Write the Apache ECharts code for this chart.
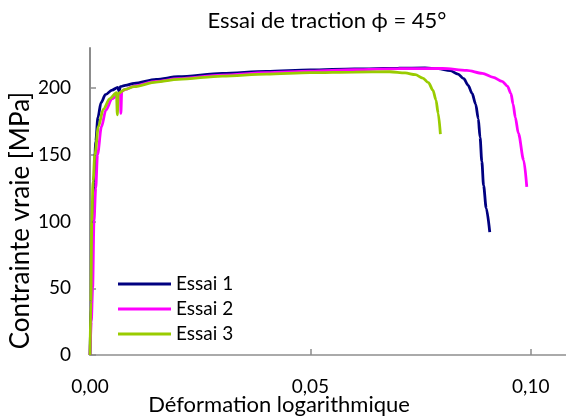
<!DOCTYPE html>
<html>
<head>
<meta charset="utf-8">
<script src="https://cdn.jsdelivr.net/npm/echarts@6/dist/echarts.min.js"></script>
<style>
  html, body { margin: 0; padding: 0; background: #ffffff; }
  #chart { width: 566px; height: 419px; }
</style>
</head>
<body>
<div id="chart"></div>
<script>
// Tensile test at 45°: true stress vs logarithmic strain, three specimens
const seriesNames = ['Essai 1', 'Essai 2', 'Essai 3'];
const seriesColors = ['#000080', '#FF00FF', '#99CC00'];

// [logarithmic strain, true stress in MPa]
const essai1 = [
  [0, 0], [0.0003, 40], [0.0006, 90], [0.0009, 130], [0.0013, 160], [0.0018, 178],
  [0.0025, 189], [0.0035, 195], [0.005, 198.5], [0.0063, 200.5], [0.0066, 197.5],
  [0.0069, 201], [0.008, 202], [0.01, 203.5], [0.015, 206.5], [0.02, 208.5],
  [0.03, 211], [0.04, 212.5], [0.05, 213.5], [0.06, 214.3], [0.07, 214.9],
  [0.076, 215], [0.079, 214.6], [0.0817, 213], [0.0835, 210.5], [0.0848, 207],
  [0.0858, 202], [0.0867, 196], [0.0875, 188], [0.0881, 177], [0.0885, 163],
  [0.0889, 145], [0.0893, 127], [0.0899, 110], [0.0907, 92]
];
const essai2 = [
  [0, 0], [0.0003, 25], [0.0006, 50], [0.0009, 100], [0.0013, 125], [0.0017, 150],
  [0.0026, 171], [0.0036, 183.5], [0.005, 192], [0.0069, 196.5], [0.007, 181],
  [0.0072, 197.5], [0.008, 199], [0.01, 201.5], [0.015, 205], [0.02, 207],
  [0.03, 209.7], [0.04, 211.5], [0.05, 212.7], [0.06, 213.7], [0.07, 214.5],
  [0.08, 214.7], [0.0855, 213.2], [0.089, 211], [0.0915, 208], [0.0935, 205],
  [0.0947, 201.5], [0.0955, 196], [0.096, 188], [0.0965, 178], [0.0972, 166],
  [0.0984, 146], [0.0991, 126]
];
const essai3 = [
  [0, 0], [0.0002, 40], [0.0004, 100], [0.0007, 130], [0.0011, 150], [0.0019, 171],
  [0.003, 184], [0.0045, 192], [0.006, 196.5], [0.0062, 180], [0.0064, 196],
  [0.008, 199], [0.01, 201], [0.015, 204.5], [0.02, 206.5], [0.03, 209],
  [0.04, 210.5], [0.05, 211.5], [0.06, 212], [0.068, 212.2], [0.0715, 211.3],
  [0.0738, 210], [0.0755, 207.5], [0.0768, 204], [0.0778, 198.5], [0.0785, 191],
  [0.079, 181], [0.0795, 165.5]
];
const allSeries = [essai1, essai2, essai3];

// axis ranges and tick steps
const xMin = 0, xMax = 0.108, xStep = 0.05;
const yMin = 0, yMax = 230, yStep = 50;

const FONT = 'Lato';
const axisGrey = '#8c8c8c';

const chart = echarts.init(document.getElementById('chart'), null, { renderer: 'canvas' });

chart.setOption({
  animation: false,
  backgroundColor: '#ffffff',
  textStyle: { fontFamily: FONT, color: '#000000' },
  title: {
    text: 'Essai de traction \u03D5 = 45\u00B0',
    left: 322, textAlign: 'center', top: 5,
    textStyle: { fontFamily: FONT, fontSize: 22, fontWeight: 'normal', color: '#000000' }
  },
  legend: {
    orient: 'vertical',
    left: 113, top: 268,
    itemWidth: 53, itemHeight: 3, itemGap: 3,
    icon: 'rect',
    data: seriesNames,
    textStyle: { fontFamily: FONT, fontSize: 19, color: '#000000', lineHeight: 22 }
  },
  grid: {
    left: 90, right: 0, top: 48, bottom: 64,
    containLabel: false, outerBoundsMode: 'none'
  },
  xAxis: [{
    type: 'value', min: xMin, max: xMax, interval: xStep,
    name: 'Déformation logarithmique', nameLocation: 'middle', nameGap: 39,
    nameMoveOverlap: false,
    nameTextStyle: { fontFamily: FONT, fontSize: 22, color: '#000000', padding: [0, 98, 0, 0] },
    axisLine: { show: true, onZero: false, lineStyle: { color: axisGrey, width: 2 } },
    axisTick: { show: true, inside: true, length: 6, lineStyle: { color: axisGrey, width: 1.5 } },
    axisLabel: {
      fontFamily: FONT, fontSize: 19, color: '#000000', margin: 22, showMaxLabel: false,
      formatter: v => v.toFixed(2).replace('.', ',')
    },
    splitLine: { show: false }
  }, {
    // upper frame edge of the plot area
    type: 'value', position: 'top', min: xMin, max: xMax,
    axisLine: { show: true, lineStyle: { color: '#aaaaaa', width: 2 } },
    axisTick: { show: false }, axisLabel: { show: false }, splitLine: { show: false }
  }],
  yAxis: {
    type: 'value', min: yMin, max: yMax, interval: yStep,
    name: 'Contrainte vraie [MPa]', nameLocation: 'middle', nameGap: 56,
    nameMoveOverlap: false,
    nameTextStyle: { fontFamily: FONT, fontSize: 26, color: '#000000', padding: [0, 38, 0, 0] },
    axisLine: { show: true, onZero: false, lineStyle: { color: axisGrey, width: 2 } },
    axisTick: { show: true, inside: true, length: 6, lineStyle: { color: axisGrey, width: 1.5 } },
    axisLabel: { fontFamily: FONT, fontSize: 19, color: '#000000', margin: 19, showMaxLabel: false },
    splitLine: { show: false }
  },
  series: allSeries.map((d, i) => ({
    name: seriesNames[i],
    type: 'line',
    data: d,
    showSymbol: false,
    symbol: 'none',
    smooth: 0.3,
    smoothMonotone: 'x',
    clip: true,
    itemStyle: { color: seriesColors[i] },
    lineStyle: { color: seriesColors[i], width: 2.8 }
  }))
});
</script>
</body>
</html>
